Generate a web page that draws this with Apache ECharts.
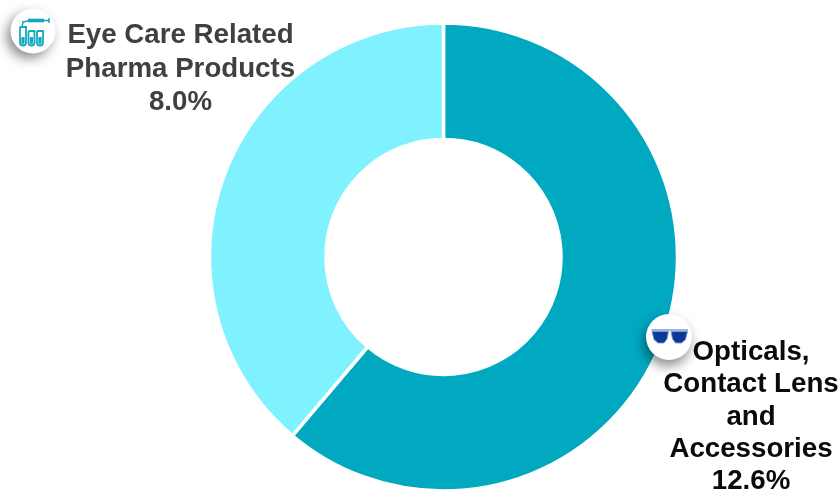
<!DOCTYPE html>
<html>
<head>
<meta charset="utf-8">
<style>html,body{margin:0;padding:0;background:#fff}#chart{width:839px;height:490px}</style>
<script src="https://cdn.jsdelivr.net/npm/echarts@6/dist/echarts.min.js"></script>
</head>
<body>
<div id="chart"></div>
<script>
const categories = ['Opticals,\nContact Lens\nand\nAccessories', 'Eye Care Related\nPharma Products'];
const shares = [12.6, 8.0];
const sliceColors = ['#00A8C0', '#80F1FF'];
const labelColors = ['#0a0a0a', '#404040'];
const labelFontSizes = [27.7, 27.7];
const labelLineHeights = [32.4, 33.4];
const labelAnchors = [[751, 336], [180.5, 19]];

const TEAL = '#12A9BF';
const NAVY = '#0B3A96';
const FRAME = '#7F9AD2';

// White badge with a soft drop shadow behind each segment icon
function badge(cx, cy, r, shadowX, shadowY) {
  return {
    type: 'circle', z: 10, shape: { cx, cy, r },
    style: { fill: '#fff', shadowBlur: 12, shadowColor: 'rgba(0,0,0,0.45)', shadowOffsetX: shadowX, shadowOffsetY: shadowY }
  };
}

// Syringe over three test tubes
const pharmaIcon = {
  type: 'group',
  z: 11,
  children: [
    { type: 'line', z: 11, shape: { x1: 28, y1: 20.5, x2: 44, y2: 20.5 }, style: { stroke: TEAL, lineWidth: 3.6 } },
    { type: 'line', z: 11, shape: { x1: 44, y1: 20.5, x2: 49, y2: 20.5 }, style: { stroke: TEAL, lineWidth: 1.5 } },
    { type: 'line', z: 11, shape: { x1: 49, y1: 18, x2: 49, y2: 23 }, style: { stroke: TEAL, lineWidth: 1.5 } },
    { type: 'polyline', z: 11, shape: { points: [[28, 21], [23, 22], [22, 27]] }, style: { fill: 'none', stroke: TEAL, lineWidth: 1.5 } },
    ...[23, 31.5, 40].map((x, i) => ({
      type: 'rect', z: 11,
      shape: { x: x - 3, y: i ? 31 : 27, width: 6, height: i ? 14.5 : 18.5, r: [0, 0, 3, 3] },
      style: { fill: '#fff', stroke: TEAL, lineWidth: 1.8 }
    })),
    ...[23, 31.5, 40].map(x => ({
      type: 'rect', z: 11,
      shape: { x: x - 1.6, y: 37, width: 3.2, height: 7, r: [0, 0, 1.6, 1.6] },
      style: { fill: TEAL }
    }))
  ]
};

// Pair of dark sunglasses
const glassesIcon = {
  type: 'group',
  z: 11,
  children: [
    { type: 'polyline', z: 11, shape: { points: [[651.5, 330], [688, 330]] }, style: { stroke: FRAME, lineWidth: 1.6 } },
    { type: 'polygon', z: 11, shape: { points: [[652, 331.5], [668.5, 331.5], [667, 339], [664, 343], [658, 343], [654, 339.5]] }, style: { fill: NAVY, stroke: FRAME, lineWidth: 0.9 } },
    { type: 'polygon', z: 11, shape: { points: [[671, 331.5], [687.5, 331.5], [685.5, 339.5], [681.5, 343], [675.5, 343], [672.5, 339]] }, style: { fill: NAVY, stroke: FRAME, lineWidth: 0.9 } }
  ]
};

const chart = echarts.init(document.getElementById('chart'), null, { renderer: 'canvas' });

chart.setOption({
  animation: false,
  backgroundColor: '#ffffff',
  series: [{
    type: 'pie',
    z: 1,
    center: [443.5, 257],
    radius: [117.5, 234],
    startAngle: 90,
    clockwise: true,
    silent: true,
    itemStyle: { borderColor: '#ffffff', borderWidth: 3.5 },
    labelLine: { show: false },
    labelLayout: params => {
      const [x, y] = labelAnchors[params.dataIndex];
      return { x, y, align: 'center', verticalAlign: 'top' };
    },
    data: categories.map((name, i) => ({
      name,
      value: shares[i],
      itemStyle: { color: sliceColors[i] },
      label: {
        show: true,
        position: 'outside',
        formatter: `${name}\n${shares[i].toFixed(1)}%`,
        fontFamily: '"Liberation Sans", Arial, sans-serif',
        fontWeight: 'bold',
        fontSize: labelFontSizes[i],
        lineHeight: labelLineHeights[i],
        color: labelColors[i],
        align: 'center',
        overflow: 'none'
      }
    }))
  }],
  graphic: [
    badge(33, 31, 22.5, -4, 5),
    pharmaIcon,
    badge(669, 337, 23, -2, 6),
    glassesIcon
  ]
});
</script>
</body>
</html>
